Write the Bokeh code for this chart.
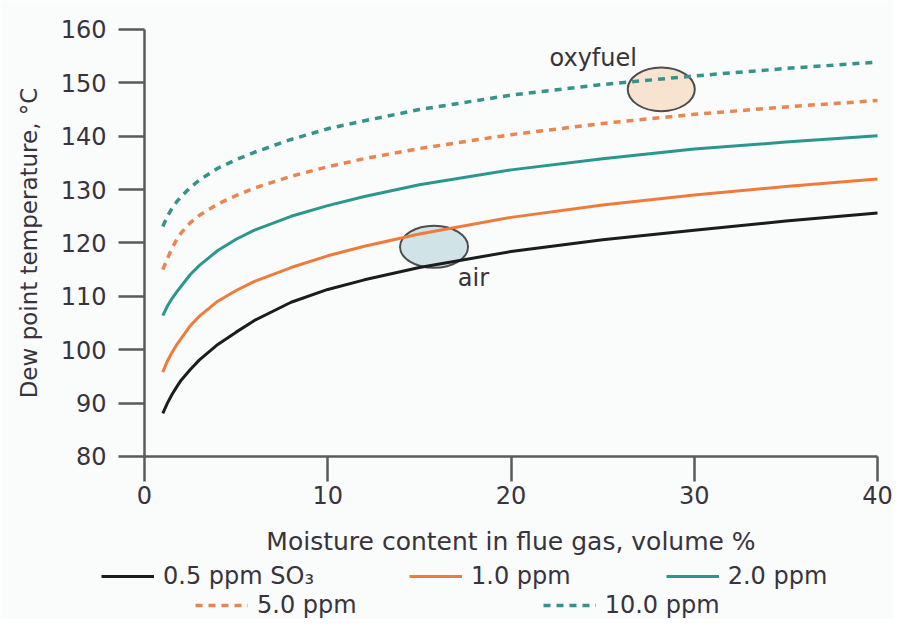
from bokeh.plotting import figure
from bokeh.models import Range1d, Legend, LegendItem
from bokeh.core.properties import value
from bokeh.embed import file_html
from bokeh.resources import INLINE

# ---- data ----
moisture = [1, 1.25, 1.5, 1.75, 2, 2.5, 3, 4, 5, 6, 8, 10, 12, 15, 20, 25, 30, 35, 40]
so3_0_5 = [88.1, 90.0, 91.6, 93.0, 94.3, 96.3, 98.1, 101.0, 103.3, 105.5, 108.9, 111.3, 113.1, 115.4, 118.4, 120.6, 122.4, 124.1, 125.6]
so3_1_0 = [95.8, 97.9, 99.5, 100.9, 102.1, 104.5, 106.3, 109.1, 111.1, 112.8, 115.4, 117.6, 119.4, 121.7, 124.8, 127.1, 129.0, 130.6, 132.0]
so3_2_0 = [106.4, 108.2, 109.6, 110.8, 111.9, 114.1, 115.8, 118.6, 120.7, 122.4, 125.0, 127.0, 128.7, 130.9, 133.7, 135.8, 137.6, 138.9, 140.1]
so3_5_0 = [115.0, 117.1, 119.0, 120.6, 121.9, 123.8, 125.2, 127.3, 128.9, 130.3, 132.5, 134.3, 135.8, 137.7, 140.3, 142.4, 144.1, 145.5, 146.7]
so3_10_0 = [123.1, 125.0, 126.5, 127.7, 128.7, 130.4, 131.8, 134.0, 135.6, 137.0, 139.4, 141.4, 142.9, 145.0, 147.7, 149.7, 151.3, 152.7, 153.9]

series_labels = ["0.5 ppm SO\u2083", "1.0 ppm", "2.0 ppm", "5.0 ppm", "10.0 ppm"]
x_ticks = [0, 10, 20, 30, 40]
y_ticks = [80, 90, 100, 110, 120, 130, 140, 150, 160]
x_label = "Moisture content in flue gas, volume %"
y_label = "Dew point temperature, \u00b0C"
region_names = ["oxyfuel", "air"]
region_x = [28.2, 15.8]
region_y = [148.8, 119.3]
region_label_x = [22.1, 17.1]
region_label_y = [154.7, 113.5]

# ---- styling / layout ----
FONT = "DejaVu Sans"
TXT = "#38333d"
BG = "#fafbfb"
AXIS = "#5a5a5a"
colors = ["#1c1c1c", "#ee7b3b", "#2b978c", "#ea8450", "#35938c"]
dashes = ["solid", "solid", "solid", "7 6", "7 6"]
widths = [3, 3, 3, 3.5, 3.5]
all_series = [so3_0_5, so3_1_0, so3_2_0, so3_5_0, so3_10_0]

# the frame spans the whole canvas so the legend rows below the axis are not clipped;
# the axes are pinned at x=0 / y=80 and bounded to the data window.
p = figure(width=893, height=619, output_backend="svg", toolbar_location=None,
           x_range=Range1d(-7.858, 40.873), y_range=Range1d(49.461, 165.433),
           min_border_left=0, min_border_right=0, min_border_top=0,
           min_border_bottom=0)
p.background_fill_color = BG
p.border_fill_color = BG
p.outline_line_color = None
p.grid.visible = False

for ax in (p.xaxis, p.yaxis):
    ax.axis_line_color = AXIS
    ax.axis_line_width = 2.5
    ax.major_tick_line_color = AXIS
    ax.major_tick_line_width = 2.5
    ax.major_tick_in = 0
    ax.minor_tick_line_color = None
    ax.major_label_text_font = FONT
    ax.major_label_text_font_size = "24px"
    ax.major_label_text_color = TXT
    ax.axis_label_text_font = FONT
    ax.axis_label_text_font_style = "normal"
    ax.axis_label_text_color = TXT

p.xaxis.fixed_location = y_ticks[0]
p.xaxis.bounds = (x_ticks[0], x_ticks[-1])
p.xaxis.ticker = x_ticks
p.xaxis.major_tick_out = 25
p.xaxis.major_label_standoff = 5
p.xaxis.axis_label = x_label
p.xaxis.axis_label_text_font_size = "25px"
p.xaxis.axis_label_standoff = 19

p.yaxis.fixed_location = x_ticks[0]
p.yaxis.bounds = (y_ticks[0], y_ticks[-1])
p.yaxis.ticker = y_ticks
p.yaxis.major_tick_out = 26
p.yaxis.major_label_standoff = 12
p.yaxis.axis_label = y_label
p.yaxis.axis_label_text_font_size = "23px"
p.yaxis.axis_label_standoff = 16

# highlighted regions (drawn under the curves)
p.ellipse(x=[region_x[0]], y=[region_y[0]], width=3.66, height=8.2,
          fill_color="#f7e3cf", line_color="#4d4d4d", line_width=2)
p.ellipse(x=[region_x[1]], y=[region_y[1]], width=3.71, height=7.9,
          fill_color="#d0e3e7", line_color="#4d4d4d", line_width=2)

renderers = []
for ys, c, d, w in zip(all_series, colors, dashes, widths):
    renderers.append(p.line(moisture, ys, line_color=c, line_width=w, line_dash=d))

p.text(x=region_label_x, y=region_label_y, text=region_names,
       text_align="left", text_baseline="alphabetic", text_font=value(FONT),
       text_font_size="24px", text_color=TXT)

def make_legend(idx, loc, spacing):
    return Legend(items=[LegendItem(label=series_labels[i], renderers=[renderers[i]]) for i in idx],
                  location=loc, orientation="horizontal", padding=0, margin=0,
                  spacing=spacing, border_line_color=None, background_fill_alpha=0,
                  glyph_width=53, glyph_height=28, label_height=28,
                  label_standoff=9, label_text_font=FONT,
                  label_text_font_size="24px", label_text_color=TXT)

p.add_layout(make_legend([0, 1, 2], (101, 29), 95))
p.add_layout(make_legend([3, 4], (195, 0), 186))

open("out.html", "w").write(file_html(p, INLINE))
